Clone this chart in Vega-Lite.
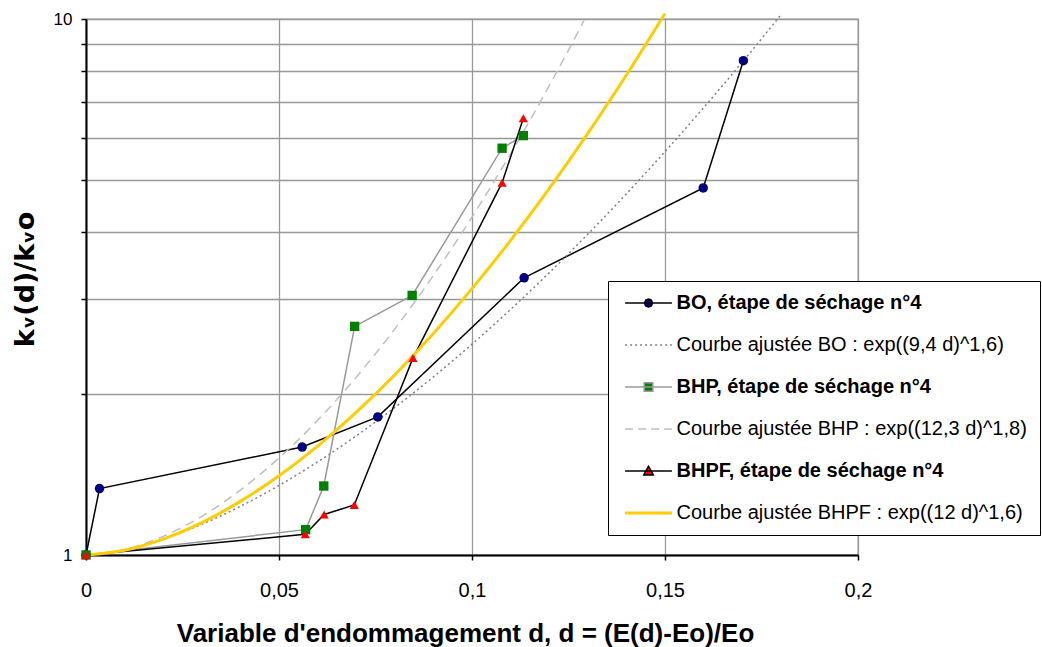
{
  "$schema": "https://vega.github.io/schema/vega-lite/v6.json",
  "width": 772,
  "height": 536,
  "autosize": {"type": "none"},
  "padding": {"left": 86, "top": 19, "right": 184, "bottom": 92},
  "background": "white",
  "config": {"view": {"stroke": "#999999", "strokeWidth": 1.3}, "font": "Liberation Sans"},
  "data": {"values": [
    {"serie": "BO, étape de séchage n°4", "d": 0, "v": 1},
    {"serie": "BO, étape de séchage n°4", "d": 0.0035, "v": 1.33},
    {"serie": "BO, étape de séchage n°4", "d": 0.056, "v": 1.59},
    {"serie": "BO, étape de séchage n°4", "d": 0.0756, "v": 1.81},
    {"serie": "BO, étape de séchage n°4", "d": 0.1135, "v": 3.29},
    {"serie": "BO, étape de séchage n°4", "d": 0.1599, "v": 4.84},
    {"serie": "BO, étape de séchage n°4", "d": 0.1703, "v": 8.36},
    {"serie": "BHP, étape de séchage n°4", "d": 0, "v": 1},
    {"serie": "BHP, étape de séchage n°4", "d": 0.0569, "v": 1.115},
    {"serie": "BHP, étape de séchage n°4", "d": 0.0616, "v": 1.345},
    {"serie": "BHP, étape de séchage n°4", "d": 0.0696, "v": 2.67},
    {"serie": "BHP, étape de séchage n°4", "d": 0.0845, "v": 3.05},
    {"serie": "BHP, étape de séchage n°4", "d": 0.1078, "v": 5.74},
    {"serie": "BHP, étape de séchage n°4", "d": 0.1133, "v": 6.06},
    {"serie": "BHPF, étape de séchage n°4", "d": 0, "v": 1},
    {"serie": "BHPF, étape de séchage n°4", "d": 0.0568, "v": 1.093},
    {"serie": "BHPF, étape de séchage n°4", "d": 0.0617, "v": 1.19},
    {"serie": "BHPF, étape de séchage n°4", "d": 0.0695, "v": 1.24},
    {"serie": "BHPF, étape de séchage n°4", "d": 0.0847, "v": 2.33},
    {"serie": "BHPF, étape de séchage n°4", "d": 0.1078, "v": 4.95},
    {"serie": "BHPF, étape de séchage n°4", "d": 0.1133, "v": 6.53},
    {"serie": "Courbe ajustée BO : exp((9,4 d)^1,6)", "d": 0, "v": 1},
    {"serie": "Courbe ajustée BO : exp((9,4 d)^1,6)", "d": 0.01, "v": 1.023},
    {"serie": "Courbe ajustée BO : exp((9,4 d)^1,6)", "d": 0.02, "v": 1.0714},
    {"serie": "Courbe ajustée BO : exp((9,4 d)^1,6)", "d": 0.03, "v": 1.1411},
    {"serie": "Courbe ajustée BO : exp((9,4 d)^1,6)", "d": 0.04, "v": 1.2326},
    {"serie": "Courbe ajustée BO : exp((9,4 d)^1,6)", "d": 0.05, "v": 1.3482},
    {"serie": "Courbe ajustée BO : exp((9,4 d)^1,6)", "d": 0.06, "v": 1.4918},
    {"serie": "Courbe ajustée BO : exp((9,4 d)^1,6)", "d": 0.07, "v": 1.6683},
    {"serie": "Courbe ajustée BO : exp((9,4 d)^1,6)", "d": 0.08, "v": 1.8846},
    {"serie": "Courbe ajustée BO : exp((9,4 d)^1,6)", "d": 0.09, "v": 2.1495},
    {"serie": "Courbe ajustée BO : exp((9,4 d)^1,6)", "d": 0.1, "v": 2.4737},
    {"serie": "Courbe ajustée BO : exp((9,4 d)^1,6)", "d": 0.11, "v": 2.8721},
    {"serie": "Courbe ajustée BO : exp((9,4 d)^1,6)", "d": 0.12, "v": 3.3619},
    {"serie": "Courbe ajustée BO : exp((9,4 d)^1,6)", "d": 0.13, "v": 3.9677},
    {"serie": "Courbe ajustée BO : exp((9,4 d)^1,6)", "d": 0.14, "v": 4.7192},
    {"serie": "Courbe ajustée BO : exp((9,4 d)^1,6)", "d": 0.15, "v": 5.6557},
    {"serie": "Courbe ajustée BO : exp((9,4 d)^1,6)", "d": 0.16, "v": 6.8304},
    {"serie": "Courbe ajustée BO : exp((9,4 d)^1,6)", "d": 0.17, "v": 8.3061},
    {"serie": "Courbe ajustée BO : exp((9,4 d)^1,6)", "d": 0.18, "v": 10.172},
    {"serie": "Courbe ajustée BHP : exp((12,3 d)^1,8)", "d": 0, "v": 1},
    {"serie": "Courbe ajustée BHP : exp((12,3 d)^1,8)", "d": 0.01, "v": 1.0233},
    {"serie": "Courbe ajustée BHP : exp((12,3 d)^1,8)", "d": 0.02, "v": 1.0834},
    {"serie": "Courbe ajustée BHP : exp((12,3 d)^1,8)", "d": 0.03, "v": 1.1808},
    {"serie": "Courbe ajustée BHP : exp((12,3 d)^1,8)", "d": 0.04, "v": 1.3217},
    {"serie": "Courbe ajustée BHP : exp((12,3 d)^1,8)", "d": 0.05, "v": 1.5172},
    {"serie": "Courbe ajustée BHP : exp((12,3 d)^1,8)", "d": 0.06, "v": 1.7838},
    {"serie": "Courbe ajustée BHP : exp((12,3 d)^1,8)", "d": 0.07, "v": 2.1464},
    {"serie": "Courbe ajustée BHP : exp((12,3 d)^1,8)", "d": 0.08, "v": 2.6416},
    {"serie": "Courbe ajustée BHP : exp((12,3 d)^1,8)", "d": 0.09, "v": 3.3226},
    {"serie": "Courbe ajustée BHP : exp((12,3 d)^1,8)", "d": 0.1, "v": 4.2696},
    {"serie": "Courbe ajustée BHP : exp((12,3 d)^1,8)", "d": 0.11, "v": 5.6029},
    {"serie": "Courbe ajustée BHP : exp((12,3 d)^1,8)", "d": 0.12, "v": 7.5046},
    {"serie": "Courbe ajustée BHP : exp((12,3 d)^1,8)", "d": 0.125, "v": 8.752},
    {"serie": "Courbe ajustée BHP : exp((12,3 d)^1,8)", "d": 0.129, "v": 9.929},
    {"serie": "Courbe ajustée BHPF : exp((12 d)^1,6)", "d": 0, "v": 1},
    {"serie": "Courbe ajustée BHPF : exp((12 d)^1,6)", "d": 0.01, "v": 1.0205},
    {"serie": "Courbe ajustée BHPF : exp((12 d)^1,6)", "d": 0.02, "v": 1.0708},
    {"serie": "Courbe ajustée BHPF : exp((12 d)^1,6)", "d": 0.03, "v": 1.1492},
    {"serie": "Courbe ajustée BHPF : exp((12 d)^1,6)", "d": 0.04, "v": 1.2589},
    {"serie": "Courbe ajustée BHPF : exp((12 d)^1,6)", "d": 0.05, "v": 1.4052},
    {"serie": "Courbe ajustée BHPF : exp((12 d)^1,6)", "d": 0.06, "v": 1.5968},
    {"serie": "Courbe ajustée BHPF : exp((12 d)^1,6)", "d": 0.07, "v": 1.8458},
    {"serie": "Courbe ajustée BHPF : exp((12 d)^1,6)", "d": 0.08, "v": 2.169},
    {"serie": "Courbe ajustée BHPF : exp((12 d)^1,6)", "d": 0.09, "v": 2.5896},
    {"serie": "Courbe ajustée BHPF : exp((12 d)^1,6)", "d": 0.1, "v": 3.1398},
    {"serie": "Courbe ajustée BHPF : exp((12 d)^1,6)", "d": 0.11, "v": 3.8648},
    {"serie": "Courbe ajustée BHPF : exp((12 d)^1,6)", "d": 0.12, "v": 4.8276},
    {"serie": "Courbe ajustée BHPF : exp((12 d)^1,6)", "d": 0.13, "v": 6.1165},
    {"serie": "Courbe ajustée BHPF : exp((12 d)^1,6)", "d": 0.14, "v": 7.8603},
    {"serie": "Courbe ajustée BHPF : exp((12 d)^1,6)", "d": 0.15, "v": 10.238}
  ]},
  "encoding": {
    "x": {
      "field": "d", "type": "quantitative",
      "scale": {"domain": [0, 0.2], "nice": false, "zero": false},
      "axis": {
        "values": [0, 0.05, 0.1, 0.15, 0.2],
        "labelExpr": "replace(format(datum.value, '~g'), '.', ',')",
        "grid": true, "gridColor": "#999999", "gridWidth": 1.3,
        "domainColor": "black", "domainWidth": 2,
        "tickColor": "black", "tickSize": 5, "tickWidth": 1.5,
        "labelFont": "Liberation Sans", "labelFontSize": 20, "labelColor": "black",
        "labelBaseline": "middle", "labelPadding": 30, "labelFlush": false, "labelOverlap": false,
        "title": "Variable d'endommagement d, d = (E(d)-Eo)/Eo",
        "titleFont": "Liberation Sans", "titleFontSize": 26, "titleFontWeight": "bold", "titleColor": "black",
        "titleX": 379, "titleY": 86, "titleBaseline": "alphabetic", "titleAlign": "center"
      }
    },
    "y": {
      "field": "v", "type": "quantitative",
      "scale": {"type": "log", "domain": [1, 10], "nice": false},
      "axis": {
        "values": [1, 2, 3, 4, 5, 6, 7, 8, 9, 10],
        "labelExpr": "datum.value == 1 ? '1' : datum.value == 10 ? '10' : ''",
        "grid": true, "gridColor": "#999999", "gridWidth": 1.3,
        "domainColor": "black", "domainWidth": 2,
        "tickColor": "black", "tickSize": 5, "tickWidth": 1.5,
        "labelFont": "Liberation Sans", "labelFontSize": 17, "labelColor": "black",
        "labelPadding": 9, "labelFlush": false, "labelOverlap": false,
        "title": "kᵥ(d)/kᵥo",
        "titleFont": "DejaVu Sans", "titleFontSize": 27, "titleFontWeight": "bold", "titleColor": "black",
        "titleAngle": -90, "titleX": -53, "titleY": 260, "titleBaseline": "alphabetic", "titleAlign": "center"
      }
    }
  },
  "layer": [
    {
      "transform": [{"filter": "datum.serie == 'BO, étape de séchage n°4'"}],
      "mark": {"type": "line", "strokeWidth": 1.5},
      "encoding": {
        "stroke": {
          "field": "serie", "type": "nominal",
          "scale": {
            "domain": ["BO, étape de séchage n°4", "Courbe ajustée BO : exp((9,4 d)^1,6)", "BHP, étape de séchage n°4", "Courbe ajustée BHP : exp((12,3 d)^1,8)", "BHPF, étape de séchage n°4", "Courbe ajustée BHPF : exp((12 d)^1,6)"],
            "range": ["#000000", "#808080", "#999999", "#BFBFBF", "#000000", "#FFCC00"]
          },
          "legend": {
            "orient": "none", "legendX": 522, "legendY": 262, "title": null,
            "padding": 12, "symbolSize": 144, "symbolOffset": 18.5, "labelOffset": 18, "rowPadding": 22,
            "labelFont": "Liberation Sans", "labelFontSize": 20, "labelColor": "black", "labelLimit": 1000,
            "strokeColor": "black", "fillColor": "white",
            "encode": {
              "symbols": {"update": {
                "shape": {"signal": "datum.value == 'BO, étape de séchage n°4' ? 'M-3.9,0H3.9M0.67,0L0.474,0.474L0,0.67L-0.474,0.474L-0.67,0L-0.474,-0.474L0,-0.67L0.474,-0.474Z' : datum.value == 'BHP, étape de séchage n°4' ? 'M-3.9,0H3.9M-0.72,-0.72H0.72V0.72H-0.72Z' : datum.value == 'BHPF, étape de séchage n°4' ? 'M-3.9,0H3.9M0,-0.8L0.8,0.65H-0.8Z' : 'M-3.9,0H3.9'"},
                "fill": {"signal": "datum.value == 'BO, étape de séchage n°4' ? '#000080' : datum.value == 'BHP, étape de séchage n°4' ? '#008000' : datum.value == 'BHPF, étape de séchage n°4' ? '#FF0000' : 'transparent'"},
                "strokeDash": {"signal": "datum.value == 'Courbe ajustée BO : exp((9,4 d)^1,6)' ? [2,3] : datum.value == 'Courbe ajustée BHP : exp((12,3 d)^1,8)' ? [8,5] : [1,0]"},
                "strokeWidth": {"signal": "datum.value == 'Courbe ajustée BHPF : exp((12 d)^1,6)' ? 3 : 1.5"},
                "opacity": {"value": 1}
              }},
              "labels": {"update": {"fontWeight": {"signal": "datum.value == 'BO, étape de séchage n°4' || datum.value == 'BHP, étape de séchage n°4' || datum.value == 'BHPF, étape de séchage n°4' ? 'bold' : 'normal'"}}}
            }
          }
        }
      }
    },
    {
      "transform": [{"filter": "datum.serie == 'Courbe ajustée BO : exp((9,4 d)^1,6)'"}],
      "mark": {"type": "line", "strokeWidth": 1.5, "strokeDash": [2, 3], "interpolate": "monotone"},
      "encoding": {"stroke": {"field": "serie", "type": "nominal"}}
    },
    {
      "transform": [{"filter": "datum.serie == 'BHP, étape de séchage n°4'"}],
      "mark": {"type": "line", "strokeWidth": 1.5},
      "encoding": {"stroke": {"field": "serie", "type": "nominal"}}
    },
    {
      "transform": [{"filter": "datum.serie == 'Courbe ajustée BHP : exp((12,3 d)^1,8)'"}],
      "mark": {"type": "line", "strokeWidth": 1.5, "strokeDash": [9, 6], "interpolate": "monotone"},
      "encoding": {"stroke": {"field": "serie", "type": "nominal"}}
    },
    {
      "transform": [{"filter": "datum.serie == 'BHPF, étape de séchage n°4'"}],
      "mark": {"type": "line", "strokeWidth": 1.5},
      "encoding": {"stroke": {"field": "serie", "type": "nominal"}}
    },
    {
      "transform": [{"filter": "datum.serie == 'Courbe ajustée BHPF : exp((12 d)^1,6)'"}],
      "mark": {"type": "line", "strokeWidth": 3, "interpolate": "monotone"},
      "encoding": {"stroke": {"field": "serie", "type": "nominal"}}
    },
    {
      "transform": [{"filter": "indexof(datum.serie, 'étape') >= 0"}],
      "mark": {"type": "point", "filled": true, "opacity": 1, "strokeWidth": 0},
      "encoding": {
        "shape": {"field": "serie", "type": "nominal",
          "scale": {"domain": ["BO, étape de séchage n°4", "BHP, étape de séchage n°4", "BHPF, étape de séchage n°4"], "range": ["circle", "square", "triangle-up"]},
          "legend": null},
        "fill": {"field": "serie", "type": "nominal",
          "scale": {"domain": ["BO, étape de séchage n°4", "BHP, étape de séchage n°4", "BHPF, étape de séchage n°4"], "range": ["#000080", "#008000", "#FF0000"]},
          "legend": null},
        "size": {"field": "serie", "type": "ordinal",
          "scale": {"domain": ["BO, étape de séchage n°4", "BHP, étape de séchage n°4", "BHPF, étape de séchage n°4"], "range": [90, 85, 125]},
          "legend": null}
      }
    }
  ]
}
